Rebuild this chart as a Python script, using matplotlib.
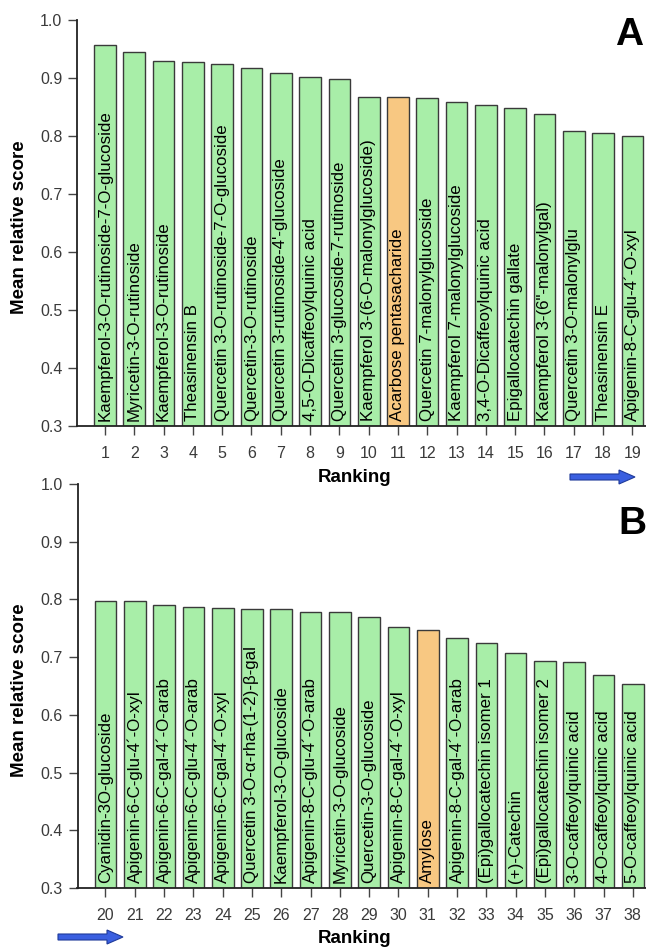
import matplotlib
matplotlib.use("Agg")
import matplotlib.pyplot as plt
from matplotlib.patches import FancyArrow

plt.rcParams['font.family'] = ['Liberation Sans', 'DejaVu Sans']

# ---- data ----
ranks_a = list(range(1, 20))
labels_a = [
    "Kaempferol-3-O-rutinoside-7-O-glucoside",
    "Myricetin-3-O-rutinoside",
    "Kaempferol-3-O-rutinoside",
    "Theasinensin B",
    "Quercetin 3-O-rutinoside-7-O-glucoside",
    "Quercetin-3-O-rutinoside",
    "Quercetin 3-rutinoside-4'-glucoside",
    "4,5-O-Dicaffeoylquinic acid",
    "Quercetin 3-glucoside-7-rutinoside",
    "Kaempferol 3-(6-O-malonylglucoside)",
    "Acarbose pentasacharide",
    "Quercetin 7-malonylglucoside",
    "Kaempferol 7-malonylglucoside",
    "3,4-O-Dicaffeoylquinic acid",
    "Epigallocatechin gallate",
    'Kaempferol 3-(6"-malonylgal)',
    "Quercetin 3-O-malonylglu",
    "Theasinensin E",
    "Apigenin-8-C-glu-4\u00b4-O-xyl",
]
values_a = [0.957, 0.944, 0.930, 0.928, 0.924, 0.917, 0.909, 0.901, 0.899,
            0.868, 0.868, 0.865, 0.859, 0.853, 0.848, 0.838, 0.809, 0.806, 0.800]
ref_a = "Acarbose pentasacharide"

ranks_b = list(range(20, 39))
labels_b = [
    "Cyanidin-3O-glucoside",
    "Apigenin-6-C-glu-4\u00b4-O-xyl",
    "Apigenin-6-C-gal-4\u00b4-O-arab",
    "Apigenin-6-C-glu-4\u00b4-O-arab",
    "Apigenin-6-C-gal-4\u00b4-O-xyl",
    "Quercetin 3-O-\u03b1-rha-(1-2)-\u03b2-gal",
    "Kaempferol-3-O-glucoside",
    "Apigenin-8-C-glu-4\u00b4-O-arab",
    "Myricetin-3-O-glucoside",
    "Quercetin-3-O-glucoside",
    "Apigenin-8-C-gal-4\u00b4-O-xyl",
    "Amylose",
    "Apigenin-8-C-gal-4\u00b4-O-arab",
    "(Epi)gallocatechin isomer 1",
    "(+)-Catechin",
    "(Epi)gallocatechin isomer 2",
    "3-O-caffeoylquinic acid",
    "4-O-caffeoylquinic acid",
    "5-O-caffeoylquinic acid",
]
values_b = [0.798, 0.797, 0.791, 0.787, 0.785, 0.783, 0.783, 0.779, 0.779,
            0.770, 0.752, 0.747, 0.734, 0.724, 0.708, 0.693, 0.691, 0.669, 0.654]
ref_b = "Amylose"

yticks = [0.3, 0.4, 0.5, 0.6, 0.7, 0.8, 0.9, 1.0]

GREEN = "#a8eea8"
ORANGE = "#f8c882"
EDGE = "#3a3a3a"
TICKC = "#3a3a3a"

W, H = 646, 949
fig = plt.figure(figsize=(W / 100, H / 100), dpi=100)

def panel(rect, ranks, labels, values, ref, letter, letter_xy, xlab_y):
    ax = fig.add_axes(rect)
    ax.patch.set_alpha(0)
    colors = [ORANGE if l == ref else GREEN for l in labels]
    ax.bar(ranks, [v - 0.3 for v in values], bottom=0.3, width=0.74,
           color=colors, edgecolor=EDGE, linewidth=1.0, zorder=2)
    for r, l in zip(ranks, labels):
        ax.text(r, 0.309, l, rotation=90, ha='center', va='bottom',
                fontsize=12.2, color='black', zorder=3)
    ax.set_ylim(0.3, 1.0)
    ax.set_xlim(ranks[0] - 0.955, ranks[-1] + 0.5)
    ax.set_yticks(yticks)
    ax.set_yticklabels([f"{t:.1f}" for t in yticks])
    ax.set_xticks(ranks)
    ax.set_xticklabels([str(r) for r in ranks])
    for s in ['top', 'right']:
        ax.spines[s].set_visible(False)
    for s in ['left', 'bottom']:
        ax.spines[s].set_color('#222222')
        ax.spines[s].set_linewidth(1.3)
    ax.tick_params(axis='both', direction='out', length=6.5, width=1.0,
                   color='#444444', labelcolor=TICKC, labelsize=11.5)
    ax.tick_params(axis='x', pad=8)
    ax.tick_params(axis='y', pad=4)
    ax.set_ylabel("Mean relative score", fontsize=13.5, fontweight='bold')
    ax.yaxis.set_label_coords(-0.086, 0.49)
    fig.text(355 / W, 1 - xlab_y / H, "Ranking", fontsize=13.5,
             fontweight='bold', ha='center', va='baseline')
    fig.text(letter_xy[0] / W, 1 - letter_xy[1] / H, letter, fontsize=28,
             fontweight='bold', ha='center', va='center')
    return ax

axA = panel([77 / W, 1 - 426 / H, 570 / W, 406 / H], ranks_a, labels_a,
            values_a, ref_a, "A", (629, 35), 482)
axB = panel([77.5 / W, 1 - 888 / H, 570 / W, 404 / H], ranks_b, labels_b,
            values_b, ref_b, "B", (632, 524), 943)

# blue direction arrows (pixel-based overlay)
ov = fig.add_axes([0, 0, 1, 1], zorder=5)
ov.set_xlim(0, W)
ov.set_ylim(H, 0)
ov.axis('off')
for x0, y0 in [(570, 477), (58, 937)]:
    ov.add_patch(FancyArrow(x0, y0, 65, 0, width=6, head_width=14,
                            head_length=16, length_includes_head=True,
                            facecolor="#3a5fe0", edgecolor="#1f3a9a",
                            linewidth=0.8))

fig.savefig("out.png", dpi=100)
